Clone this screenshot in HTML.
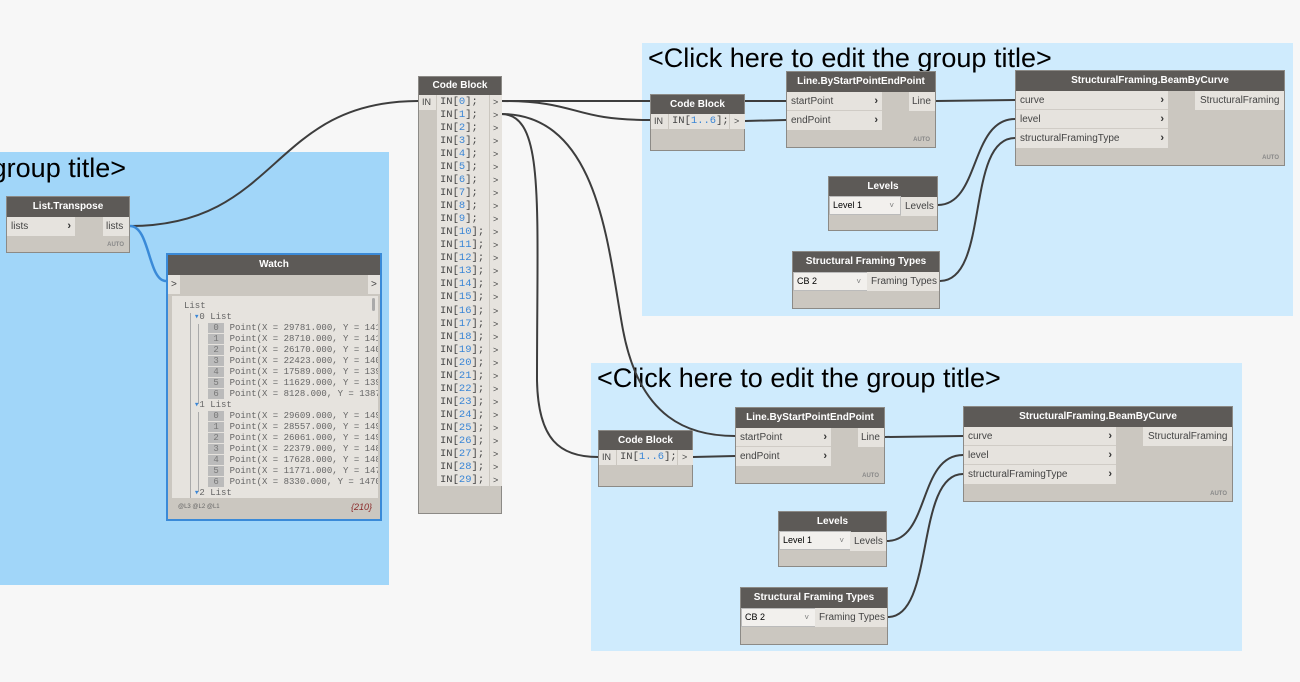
<!DOCTYPE html>
<html><head><meta charset="utf-8"><style>
*{box-sizing:border-box;margin:0;padding:0}
body{width:1300px;height:682px;background:#f7f7f7;position:relative;overflow:hidden;font-family:"Liberation Sans",sans-serif;font-size:10px;color:#333}
.g{position:absolute}
.gt{position:absolute;font-size:27px;color:#000;white-space:nowrap;line-height:28px}
.n{position:absolute;background:#cbc7c0;border:1px solid #8c8a86}
.h{position:absolute;left:0;right:0;top:0;height:20px;background:#5d5a57;color:#fff;font-weight:bold;font-size:10px;text-align:center;line-height:20px;white-space:nowrap}
.r{position:absolute;background:#e6e3de;height:19px;line-height:19px;padding-left:4px;white-space:nowrap;font-size:10px;color:#444}
.r.i{border-bottom:1px solid #d0ccc6}
.ar{position:absolute;right:4px;top:0;font-weight:bold;font-size:11px;color:#333}
.au{position:absolute;right:5px;font-size:6px;font-weight:bold;color:#888}
.mono{font-family:"Liberation Mono",monospace}
.num{color:#3a86d6}
.dd{position:absolute;background:#f2f0ed;border:1px solid #bbb;height:19px;line-height:17px;padding-left:3px;font-size:9px;color:#000}
.dd:after{content:"˅";position:absolute;right:6px;top:0;color:#777;font-size:8px}
.ix{background:#bbb;color:#777}
</style></head><body>

<!-- groups -->
<div class="g" style="left:0;top:152px;width:389px;height:433px;background:#a1d6f9"></div>
<div class="gt" style="left:-200px;width:326px;text-align:right;top:154px">group title&gt;</div>
<div class="g" style="left:642px;top:43px;width:651px;height:273px;background:#cfebfd"></div>
<div class="gt" style="left:648px;top:44px">&lt;Click here to edit the group title&gt;</div>
<div class="g" style="left:591px;top:363px;width:651px;height:288px;background:#cfebfd"></div>
<div class="gt" style="left:597px;top:364px">&lt;Click here to edit the group title&gt;</div>

<!-- wires -->
<svg class="g" style="left:0;top:0" width="1300" height="682" fill="none">
<g stroke="#3d3d3d" stroke-width="2">
<path d="M130 226 C280 226,270 101,418 101"/>
<path d="M501 101 L786 101"/>
<path d="M501 101 C580 101,570 120,650 120"/>
<path d="M745 121 L786 120"/>
<path d="M936 101 L1015 100"/>
<path d="M938 205 C980 205,970 119,1015 119"/>
<path d="M940 281 C990 281,965 138,1015 138"/>
<path d="M501 114 C545 114,537 200,537 380 C538 440,560 457,598 457"/>
<path d="M501 114 C600 114,608 250,623 330 C640 420,690 436,735 436"/>
<path d="M693 457 L735 456"/>
<path d="M885 437 L963 436"/>
<path d="M887 541 C930 541,918 455,963 455"/>
<path d="M888 617 C935 617,915 474,963 474"/>
</g>
<path d="M130 226 C150 226,148 281,166 281" stroke="#3a8ad8" stroke-width="2.5"/>
</svg>

<!-- List.Transpose -->
<div class="n" style="left:6px;top:196px;width:124px;height:57px">
<div class="h">List.Transpose</div>
<div class="r" style="left:0;top:20px;width:68px">lists<span class="ar">›</span></div>
<div class="r" style="right:0;top:20px;width:26px;padding-left:3px">lists</div>
<div class="au" style="bottom:4px">AUTO</div>
</div>

<!-- Watch -->
<div class="n" style="left:166px;top:253px;width:216px;height:268px;border:2px solid #3a8ad8">
<div class="h">Watch</div>
<div class="r" style="left:0;top:20px;width:12px;padding-left:3px">&gt;</div>
<div class="r" style="right:0;top:20px;width:12px;padding-left:3px">&gt;</div>
<div style="position:absolute;left:4px;top:41px;width:206px;height:202px;background:#e6e3de;overflow:hidden;font-family:'Liberation Mono',monospace;font-size:9px;color:#666;line-height:11px">
<div style="position:absolute;left:12px;top:5px">List</div>
<div style="position:absolute;left:200px;top:2px;width:3px;height:13px;background:#aaa;border-radius:2px"></div>
<div style="position:absolute;left:18px;top:17px;width:1px;height:190px;background:#aaa"></div>
<div style="position:absolute;left:26px;top:28px;width:1px;height:80px;background:#aaa"></div>
<div style="position:absolute;left:26px;top:116px;width:1px;height:80px;background:#aaa"></div>
<div style="position:absolute;left:22px;top:16px"><span style="color:#3a86d6">▾</span>0 List</div>
<div style="position:absolute;left:22px;top:104px"><span style="color:#3a86d6">▾</span>1 List</div>
<div style="position:absolute;left:22px;top:192px"><span style="color:#3a86d6">▾</span>2 List</div>
<div style="position:absolute;left:36px;top:27px;white-space:pre;line-height:11px"><span class="ix">&nbsp;0&nbsp;</span> Point(X = 29781.000, Y = 141
<span class="ix">&nbsp;1&nbsp;</span> Point(X = 28710.000, Y = 141
<span class="ix">&nbsp;2&nbsp;</span> Point(X = 26170.000, Y = 140
<span class="ix">&nbsp;3&nbsp;</span> Point(X = 22423.000, Y = 140
<span class="ix">&nbsp;4&nbsp;</span> Point(X = 17589.000, Y = 139
<span class="ix">&nbsp;5&nbsp;</span> Point(X = 11629.000, Y = 139
<span class="ix">&nbsp;6&nbsp;</span> Point(X = 8128.000, Y = 1387</div>
<div style="position:absolute;left:36px;top:115px;white-space:pre;line-height:11px"><span class="ix">&nbsp;0&nbsp;</span> Point(X = 29609.000, Y = 149
<span class="ix">&nbsp;1&nbsp;</span> Point(X = 28557.000, Y = 149
<span class="ix">&nbsp;2&nbsp;</span> Point(X = 26061.000, Y = 149
<span class="ix">&nbsp;3&nbsp;</span> Point(X = 22379.000, Y = 148
<span class="ix">&nbsp;4&nbsp;</span> Point(X = 17628.000, Y = 148
<span class="ix">&nbsp;5&nbsp;</span> Point(X = 11771.000, Y = 147
<span class="ix">&nbsp;6&nbsp;</span> Point(X = 8330.000, Y = 1470</div>
</div>
<div style="position:absolute;left:10px;bottom:9px;font-size:6px;color:#666">@L3 @L2 @L1</div>
<div style="position:absolute;right:8px;bottom:7px;font-size:9px;color:#8b2a2a;font-style:italic">{210}</div>
</div>

<!-- Big Code Block -->
<div class="n" style="left:418px;top:76px;width:84px;height:438px">
<div class="h" style="height:18px;line-height:18px">Code Block</div>
<div class="r" style="left:0;top:18px;width:17px;height:15px;line-height:15px;padding-left:3px;font-size:9px">IN</div>
<div style="position:absolute;left:18px;top:18px;width:52px;height:391px;background:#e6e3de"></div>
<div style="position:absolute;left:71px;top:18px;width:12px;height:391px;background:#e6e3de"></div>
<div class="mono" style="position:absolute;left:21px;top:19px;font-size:10.5px;line-height:13.03px;color:#444;white-space:pre">IN[<span class="num">0</span>];
IN[<span class="num">1</span>];
IN[<span class="num">2</span>];
IN[<span class="num">3</span>];
IN[<span class="num">4</span>];
IN[<span class="num">5</span>];
IN[<span class="num">6</span>];
IN[<span class="num">7</span>];
IN[<span class="num">8</span>];
IN[<span class="num">9</span>];
IN[<span class="num">10</span>];
IN[<span class="num">11</span>];
IN[<span class="num">12</span>];
IN[<span class="num">13</span>];
IN[<span class="num">14</span>];
IN[<span class="num">15</span>];
IN[<span class="num">16</span>];
IN[<span class="num">17</span>];
IN[<span class="num">18</span>];
IN[<span class="num">19</span>];
IN[<span class="num">20</span>];
IN[<span class="num">21</span>];
IN[<span class="num">22</span>];
IN[<span class="num">23</span>];
IN[<span class="num">24</span>];
IN[<span class="num">25</span>];
IN[<span class="num">26</span>];
IN[<span class="num">27</span>];
IN[<span class="num">28</span>];
IN[<span class="num">29</span>];</div>
<div style="position:absolute;left:74px;top:19px;font-size:9px;line-height:13.03px;color:#444;white-space:pre">&gt;
&gt;
&gt;
&gt;
&gt;
&gt;
&gt;
&gt;
&gt;
&gt;
&gt;
&gt;
&gt;
&gt;
&gt;
&gt;
&gt;
&gt;
&gt;
&gt;
&gt;
&gt;
&gt;
&gt;
&gt;
&gt;
&gt;
&gt;
&gt;
&gt;</div>
</div>

<!-- TOP group nodes -->
<div class="n" style="left:650px;top:94px;width:95px;height:57px">
<div class="h" style="height:19px;line-height:19px">Code Block</div>
<div class="r" style="left:0;top:19px;width:17px;height:15px;line-height:15px;padding-left:3px;font-size:9px">IN</div>
<div class="r mono" style="left:18px;top:19px;width:60px;height:15px;line-height:15px;padding-left:3px;font-size:10.5px">IN[<span class="num">1..6</span>];</div>
<div class="r" style="left:79px;top:19px;width:15px;height:15px;line-height:15px;font-size:9px">&gt;</div>
</div>
<div class="n" style="left:786px;top:71px;width:150px;height:77px">
<div class="h">Line.ByStartPointEndPoint</div>
<div class="r i" style="left:0;top:20px;width:95px">startPoint<span class="ar">›</span></div>
<div class="r" style="left:0;top:39px;width:95px">endPoint<span class="ar">›</span></div>
<div class="r" style="right:0;top:20px;width:26px;padding-left:3px">Line</div>
<div class="au" style="bottom:4px">AUTO</div>
</div>
<div class="n" style="left:1015px;top:70px;width:270px;height:96px">
<div class="h">StructuralFraming.BeamByCurve</div>
<div class="r i" style="left:0;top:20px;width:152px">curve<span class="ar">›</span></div>
<div class="r i" style="left:0;top:39px;width:152px">level<span class="ar">›</span></div>
<div class="r" style="left:0;top:58px;width:152px">structuralFramingType<span class="ar">›</span></div>
<div class="r" style="right:0;top:20px;width:89px;padding-left:5px">StructuralFraming</div>
<div class="au" style="bottom:4px">AUTO</div>
</div>
<div class="n" style="left:828px;top:176px;width:110px;height:55px">
<div class="h">Levels</div>
<div class="dd" style="left:0;top:19px;width:72px">Level 1</div>
<div class="r" style="right:0;top:20px;width:36px;padding-left:4px">Levels</div>
</div>
<div class="n" style="left:792px;top:251px;width:148px;height:58px">
<div class="h">Structural Framing Types</div>
<div class="dd" style="left:0;top:20px;width:75px">CB 2</div>
<div class="r" style="right:0;top:20px;width:72px;padding-left:4px">Framing Types</div>
</div>

<!-- BOTTOM group nodes -->
<div class="n" style="left:598px;top:430px;width:95px;height:57px">
<div class="h" style="height:19px;line-height:19px">Code Block</div>
<div class="r" style="left:0;top:19px;width:17px;height:15px;line-height:15px;padding-left:3px;font-size:9px">IN</div>
<div class="r mono" style="left:18px;top:19px;width:60px;height:15px;line-height:15px;padding-left:3px;font-size:10.5px">IN[<span class="num">1..6</span>];</div>
<div class="r" style="left:79px;top:19px;width:15px;height:15px;line-height:15px;font-size:9px">&gt;</div>
</div>
<div class="n" style="left:735px;top:407px;width:150px;height:77px">
<div class="h">Line.ByStartPointEndPoint</div>
<div class="r i" style="left:0;top:20px;width:95px">startPoint<span class="ar">›</span></div>
<div class="r" style="left:0;top:39px;width:95px">endPoint<span class="ar">›</span></div>
<div class="r" style="right:0;top:20px;width:26px;padding-left:3px">Line</div>
<div class="au" style="bottom:4px">AUTO</div>
</div>
<div class="n" style="left:963px;top:406px;width:270px;height:96px">
<div class="h">StructuralFraming.BeamByCurve</div>
<div class="r i" style="left:0;top:20px;width:152px">curve<span class="ar">›</span></div>
<div class="r i" style="left:0;top:39px;width:152px">level<span class="ar">›</span></div>
<div class="r" style="left:0;top:58px;width:152px">structuralFramingType<span class="ar">›</span></div>
<div class="r" style="right:0;top:20px;width:89px;padding-left:5px">StructuralFraming</div>
<div class="au" style="bottom:4px">AUTO</div>
</div>
<div class="n" style="left:778px;top:511px;width:109px;height:56px">
<div class="h">Levels</div>
<div class="dd" style="left:0;top:19px;width:72px">Level 1</div>
<div class="r" style="right:0;top:20px;width:36px;padding-left:4px">Levels</div>
</div>
<div class="n" style="left:740px;top:587px;width:148px;height:58px">
<div class="h">Structural Framing Types</div>
<div class="dd" style="left:0;top:20px;width:75px">CB 2</div>
<div class="r" style="right:0;top:20px;width:72px;padding-left:4px">Framing Types</div>
</div>

</body></html>
